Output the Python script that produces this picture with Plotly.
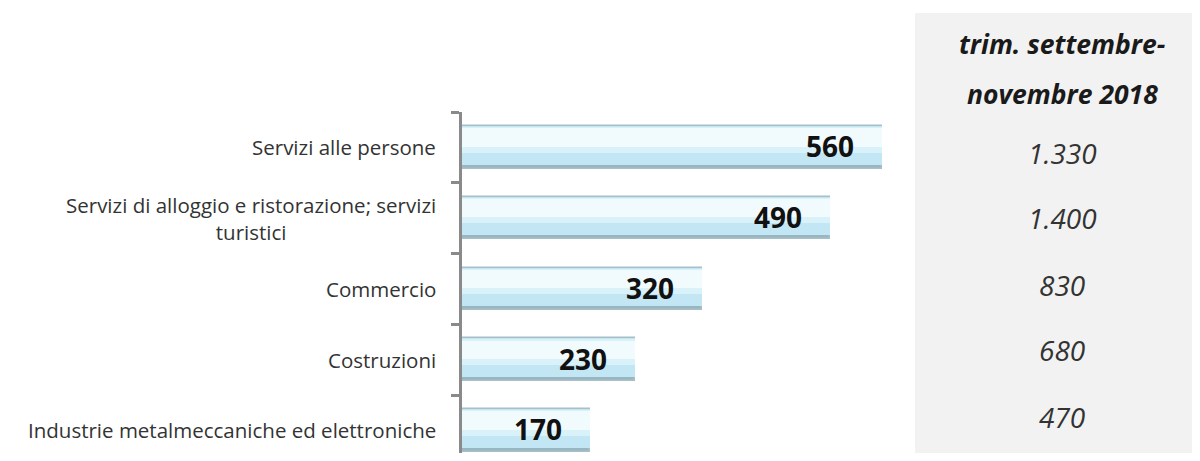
import plotly.graph_objects as go

categories = [
    "Servizi alle persone",
    "Servizi di alloggio e ristorazione; servizi<br>turistici",
    "Commercio",
    "Costruzioni",
    "Industrie metalmeccaniche ed elettroniche",
]
values = [560, 490, 320, 230, 170]
table_title = ["trim. settembre-", "novembre 2018"]
table_values = ["1.330", "1.400", "830", "680", "470"]

# the page body has an 8px margin: figure occupies page px 8..1192 x 8..453
OFF = 8
W, H = 1184, 445
ML, MR, MT, MB = 454, 290, 104, 0
BAND = 70.75  # px per category
pos = list(range(len(categories)))


def px_x(p):  # page px -> paper
    return (p - OFF - ML) / (W - ML - MR)


def px_y(p):
    return (H - MB - (p - OFF)) / (H - MT - MB)


# bar layers (offset, width, fill, outline) to imitate the bevelled gradient
layers = [
    (-0.3, 0.6, "#98b6c2", dict(color="#a9bfc7", width=1.5)),
    (-0.3, 0.545, "#c2e6f3", dict(width=0)),
    (-0.285, 0.36, "#d9f1f9", dict(width=0)),
    (-0.27, 0.26, "#f1fafd", dict(width=0)),
]
fig = go.Figure()
for off, wd, col, ln in layers:
    fig.add_trace(go.Bar(
        x=values, y=pos, orientation="h", width=wd, offset=off,
        marker=dict(color=col, line=ln),
        hoverinfo="skip", showlegend=False,
    ))

annotations = []
for i, (c, v) in enumerate(zip(categories, values)):
    annotations.append(dict(
        x=v, y=i, xref="x", yref="y", text=f"<b>{v}</b>", showarrow=False,
        xanchor="right", yanchor="middle", xshift=-26, yshift=1,
        font=dict(family="Liberation Sans Narrow, Arial Narrow, Open Sans", size=28, color="#111111"),
    ))
    annotations.append(dict(
        x=0, y=i, xref="x", yref="y", text=c, showarrow=False,
        xanchor="right", yanchor="middle", xshift=-24, align="center",
        font=dict(family="Open Sans", size=20.5, color="#333333"),
    ))

# table on the right
cx = px_x(1062)
for t, rp in zip(table_title, [44, 94]):
    annotations.append(dict(x=cx, y=px_y(rp), xref="paper", yref="paper",
                            text=f"<b><i>{t}</i></b>", showarrow=False,
                            xanchor="center", yanchor="middle",
                            font=dict(family="Open Sans", size=26.5, color="#1a1a1a")))
row_px = [153, 218, 285, 350, 417]
for t, rp in zip(table_values, row_px):
    annotations.append(dict(x=cx, y=px_y(rp), xref="paper", yref="paper",
                            text=f"<i>{t}</i>", showarrow=False,
                            xanchor="center", yanchor="middle",
                            font=dict(family="Open Sans", size=28, color="#333333")))

fig.update_layout(
    width=W, height=H,
    margin=dict(l=ML, r=MR, t=MT, b=MB, pad=0),
    paper_bgcolor="white", plot_bgcolor="rgba(0,0,0,0)",
    barmode="overlay", bargap=0,
    annotations=annotations,
    shapes=[dict(type="rect", xref="paper", yref="paper",
                 x0=px_x(915), x1=px_x(1192), y0=px_y(455), y1=px_y(13),
                 fillcolor="#f2f2f2", line=dict(width=0), layer="below")],
    xaxis=dict(range=[0, (W - ML - MR) / 0.75], visible=False, fixedrange=True),
    yaxis=dict(range=[-0.5 + (H - MT - MB) / BAND, -0.5],
               tickmode="array", tickvals=[-0.5, 0.5, 1.5, 2.5, 3.5],
               ticks="outside", ticklen=8, tickwidth=3, tickcolor="#8a8a8a",
               showticklabels=False, showgrid=False, zeroline=False,
               showline=True, linecolor="#8a8a8a", linewidth=3, fixedrange=True),
)

fig.write_html("out.html")
